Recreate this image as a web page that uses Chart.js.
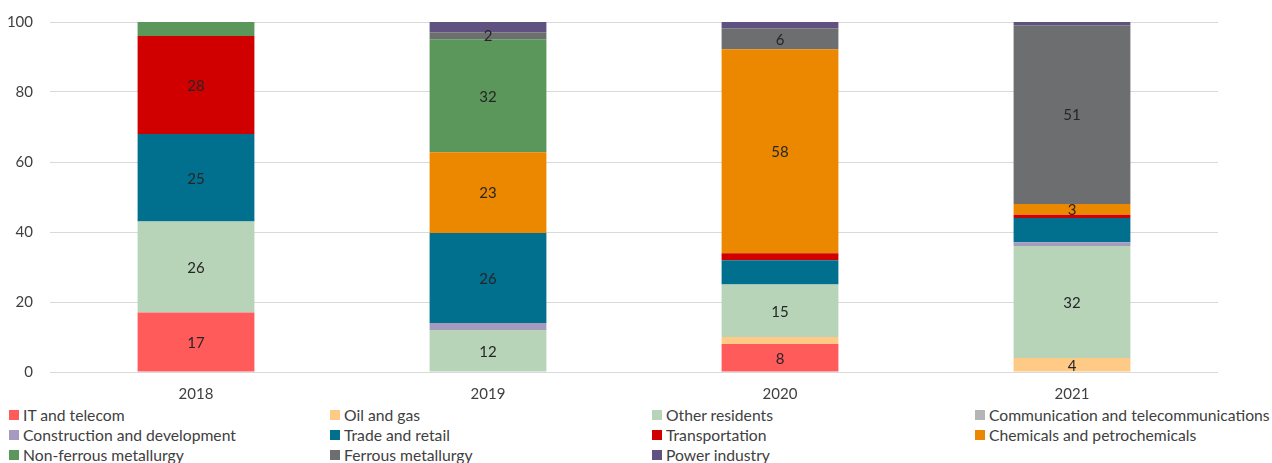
<!DOCTYPE html>
<html>
<head>
<meta charset="utf-8">
<script src="https://cdn.jsdelivr.net/npm/chart.js@4.4.1/dist/chart.umd.min.js"></script>
<style>
  html, body { margin: 0; padding: 0; background: #fff; }
  body { width: 1272px; height: 463px; overflow: hidden; font-family: Lato, sans-serif; }
  #wrap { position: relative; width: 1272px; height: 405px; }
  #legend { position: absolute; left: 0; top: 405px; width: 1272px; }
  .item { position: absolute; display: flex; align-items: center; font-size: 15.7px; color: #404040; white-space: nowrap; line-height: 20px; }
  .box { width: 10px; height: 10px; margin-right: 4px; }
</style>
</head>
<body>
<div id="wrap"><canvas id="chart" width="1272" height="405"></canvas></div>
<div id="legend"></div>
<script>
// years on the x axis
const years = ['2018', '2019', '2020', '2021'];
const yTicks = [0, 20, 40, 60, 80, 100];

// shares by sector, % (stacked bottom to top)
const itTelecom      = [17, 0, 8, 0];
const oilGas         = [0, 0, 2, 4];
const otherResidents = [26, 12, 15, 32];
const communication  = [0, 0, 0, 0];
const construction   = [0, 2, 0, 1.1];
const tradeRetail    = [25, 25.7, 6.9, 6.9];
const transportation = [28, 0, 2, 0.9];
const chemicals      = [0, 23.1, 58.3, 3.1];
const nonFerrous     = [4, 32.3, 0, 0];
const ferrous        = [0, 2, 6, 51.1];
const powerIndustry  = [0, 2.9, 1.8, 0.9];

// which segments carry a value label, per year
const labelled = [
  ['IT and telecom', 'Other residents', 'Trade and retail', 'Transportation'],
  ['Other residents', 'Trade and retail', 'Chemicals and petrochemicals', 'Non-ferrous metallurgy', 'Ferrous metallurgy'],
  ['IT and telecom', 'Other residents', 'Chemicals and petrochemicals', 'Ferrous metallurgy'],
  ['Oil and gas', 'Other residents', 'Chemicals and petrochemicals', 'Ferrous metallurgy']
];

const series = [
  { label: 'IT and telecom', data: itTelecom, color: '#ff5b5b' },
  { label: 'Oil and gas', data: oilGas, color: '#ffc986' },
  { label: 'Other residents', data: otherResidents, color: '#b7d4b8' },
  { label: 'Communication and telecommunications', data: communication, color: '#b5b5b5' },
  { label: 'Construction and development', data: construction, color: '#a59bbf' },
  { label: 'Trade and retail', data: tradeRetail, color: '#00708e' },
  { label: 'Transportation', data: transportation, color: '#d00000' },
  { label: 'Chemicals and petrochemicals', data: chemicals, color: '#ec8800' },
  { label: 'Non-ferrous metallurgy', data: nonFerrous, color: '#5b965b' },
  { label: 'Ferrous metallurgy', data: ferrous, color: '#6d6e70' },
  { label: 'Power industry', data: powerIndustry, color: '#605280' }
];

const FONT = 'Lato, sans-serif';

// draws the numbers inside the chosen segments
const barLabels = {
  id: 'barLabels',
  afterDatasetsDraw(chart) {
    const ctx = chart.ctx;
    ctx.save();
    ctx.font = '15px ' + FONT;
    ctx.fillStyle = '#262626';
    ctx.textAlign = 'center';
    ctx.textBaseline = 'middle';
    chart.data.datasets.forEach((ds, i) => {
      chart.getDatasetMeta(i).data.forEach((bar, j) => {
        if (!labelled[j].includes(ds.label)) return;
        const mid = (bar.y + bar.base) / 2;
        ctx.fillText(Math.round(ds.data[j]), bar.x, mid + 1);
      });
    });
    ctx.restore();
  }
};

new Chart(document.getElementById('chart'), {
  type: 'bar',
  data: {
    labels: years,
    datasets: series.map(s => ({
      label: s.label,
      data: s.data,
      backgroundColor: s.color,
      borderWidth: 0,
      barPercentage: 0.4,
      categoryPercentage: 1
    }))
  },
  options: {
    responsive: false,
    animation: false,
    layout: { padding: { top: 22, right: 54, left: 0, bottom: 0 } },
    plugins: {
      legend: { display: false },
      tooltip: { enabled: false }
    },
    scales: {
      x: {
        stacked: true,
        grid: { display: false, drawTicks: false },
        border: { display: false },
        ticks: { color: '#404040', font: { family: FONT, size: 15 }, padding: 13 },
        afterFit: s => { s.height = 33; }
      },
      y: {
        stacked: true,
        min: 0,
        max: 100,
        afterBuildTicks: s => { s.ticks = yTicks.map(v => ({ value: v })); },
        grid: { color: '#d9d9d9', lineWidth: 1, drawTicks: false },
        border: { display: false },
        ticks: { color: '#404040', font: { family: FONT, size: 15 }, padding: 17 },
        afterFit: s => { s.width = 50; s.paddingTop = 0; s.paddingBottom = 0; }
      }
    }
  },
  plugins: [barLabels]
});

// legend in four fixed columns, row by row
const colX = [9, 330, 652, 975];
const legend = document.getElementById('legend');
series.forEach((s, i) => {
  const el = document.createElement('div');
  el.className = 'item';
  el.style.left = colX[i % 4] + 'px';
  el.style.top = (Math.floor(i / 4) * 20) + 'px';
  el.innerHTML = '<span class="box" style="background:' + s.color + '"></span>';
  el.appendChild(document.createTextNode(s.label));
  legend.appendChild(el);
});
</script>
</body>
</html>
